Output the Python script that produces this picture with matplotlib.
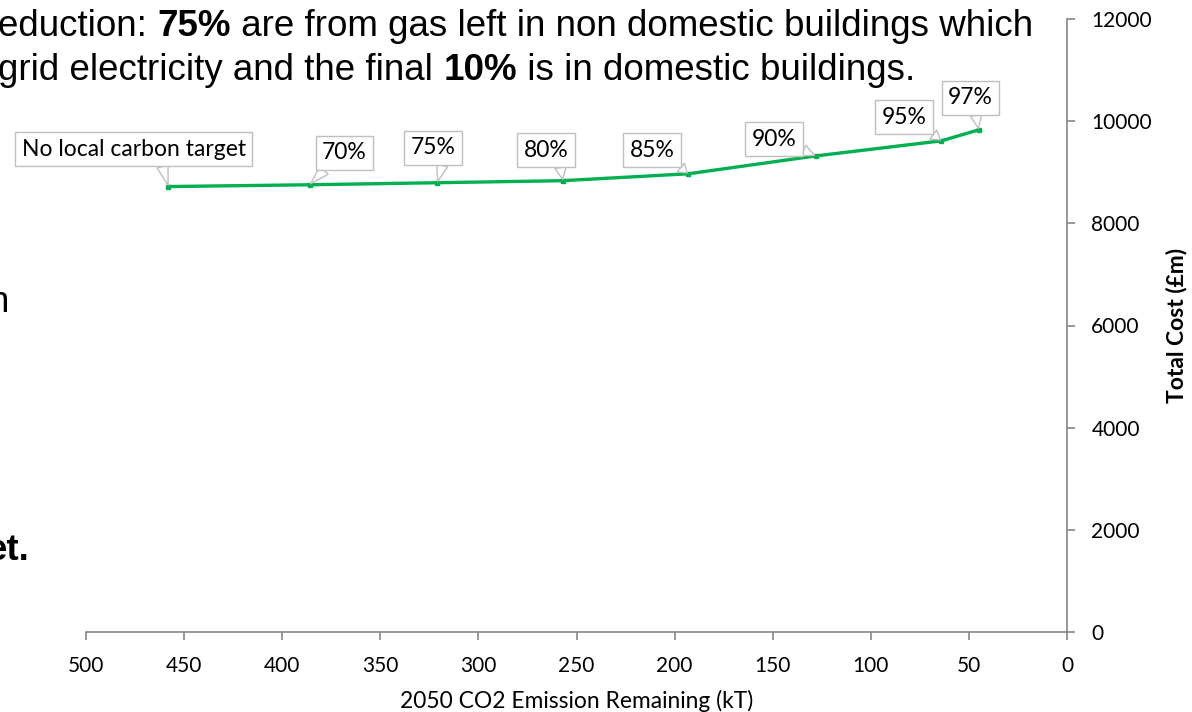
import matplotlib.pyplot as plt

# data
emissions = [458, 386, 321, 257, 193, 128, 64, 45]          # kT CO2 remaining in 2050
total_cost = [8720, 8755, 8795, 8835, 8970, 9320, 9615, 9830]  # total cost, £m
labels = ['No local carbon target', '70%', '75%', '80%', '85%', '90%', '95%', '97%']

# callout offsets (points) and where the tail leaves the box
offsets = [(-25, 27), (25, 23), (-3, 25), (-12, 22), (-26, 17), (-30, 12), (-27, 17), (-6, 23)]
tail_pos = [(0.62, 0), (0.2, 0), (0.75, 0), (0.8, 0), (0.95, 0), (1.0, 0.1), (0.95, 0), (0.6, 0)]

x_ticks = [500, 450, 400, 350, 300, 250, 200, 150, 100, 50, 0]
y_ticks = [0, 2000, 4000, 6000, 8000, 10000, 12000]

green = '#00B050'
axis_grey = '#868686'
box_grey = '#BFBFBF'
tick_font = 'Lato'
slide_font = 'Liberation Sans'


def cost_plot():
    fig = plt.figure(figsize=(11.92, 7.12), dpi=100)
    ax = fig.add_axes([86 / 1192, 1 - 632 / 712, (1067 - 86) / 1192, (632 - 19) / 712])

    ax.plot(emissions, total_cost, color=green, lw=2.4, marker='s', ms=3.5,
            mec=green, mfc=green, zorder=3)

    for x, y, lab, off, rp in zip(emissions, total_cost, labels, offsets, tail_pos):
        ax.annotate(lab, xy=(x, y), xytext=off, textcoords='offset points',
                    ha='center', va='center', fontsize=16.5, family=tick_font, color='black',
                    bbox=dict(boxstyle='square,pad=0.28', fc='white', ec=box_grey, lw=1),
                    arrowprops=dict(arrowstyle='wedge,tail_width=0.5', fc='white', ec=box_grey,
                                    lw=1, shrinkA=0, shrinkB=1, relpos=rp),
                    zorder=4)

    ax.set_xlim(500, 0)
    ax.set_ylim(0, 12000)
    ax.set_xticks(x_ticks)
    ax.set_yticks(y_ticks)

    for s in ['top', 'left']:
        ax.spines[s].set_visible(False)
    for s in ['bottom', 'right']:
        ax.spines[s].set_color(axis_grey)
        ax.spines[s].set_linewidth(1.2)

    ax.yaxis.tick_right()
    ax.yaxis.set_label_position('right')
    ax.tick_params(axis='both', colors=axis_grey, labelcolor='black', length=5.5, width=1.2,
                   labelsize=15)
    ax.tick_params(axis='x', pad=12)
    ax.tick_params(axis='y', pad=12)
    for t in ax.get_xticklabels() + ax.get_yticklabels():
        t.set_family(tick_font)

    ax.set_xlabel('2050 CO2 Emission Remaining (kT)', fontsize=16.4, family=tick_font, labelpad=10)
    ax.set_ylabel('Total Cost (£m)', fontsize=16.5, family=tick_font, fontweight='bold', labelpad=10)

    # slide text showing around the chart
    fs = 26.5
    line1 = [('eduction: ', 'normal'), ('75%', 'bold'),
             (' are from gas left in non domestic buildings which', 'normal')]
    line2 = [('grid electricity and the final ', 'normal'), ('10%', 'bold'),
             (' is in domestic buildings.', 'normal')]
    for parts, ypix in [(line1, 36), (line2, 80)]:
        prev = None
        for s, w in parts:
            if prev is None:
                prev = fig.text(-2 / 1192, 1 - ypix / 712, s, fontsize=fs, fontweight=w,
                                family=slide_font, va='baseline', ha='left')
            else:
                prev = ax.annotate(s, xy=(1, 0), xycoords=prev, va='bottom', ha='left',
                                   fontsize=fs, fontweight=w, family=slide_font,
                                   annotation_clip=False)
    fig.text(-11 / 1192, 1 - 312 / 712, 'n', fontsize=fs, family=slide_font, va='baseline')
    fig.text(-13 / 1192, 1 - 560 / 712, 'et.', fontsize=fs, fontweight='bold',
             family=slide_font, va='baseline')

    plt.savefig('out.png', dpi=100)


if __name__ == '__main__':
    cost_plot()
